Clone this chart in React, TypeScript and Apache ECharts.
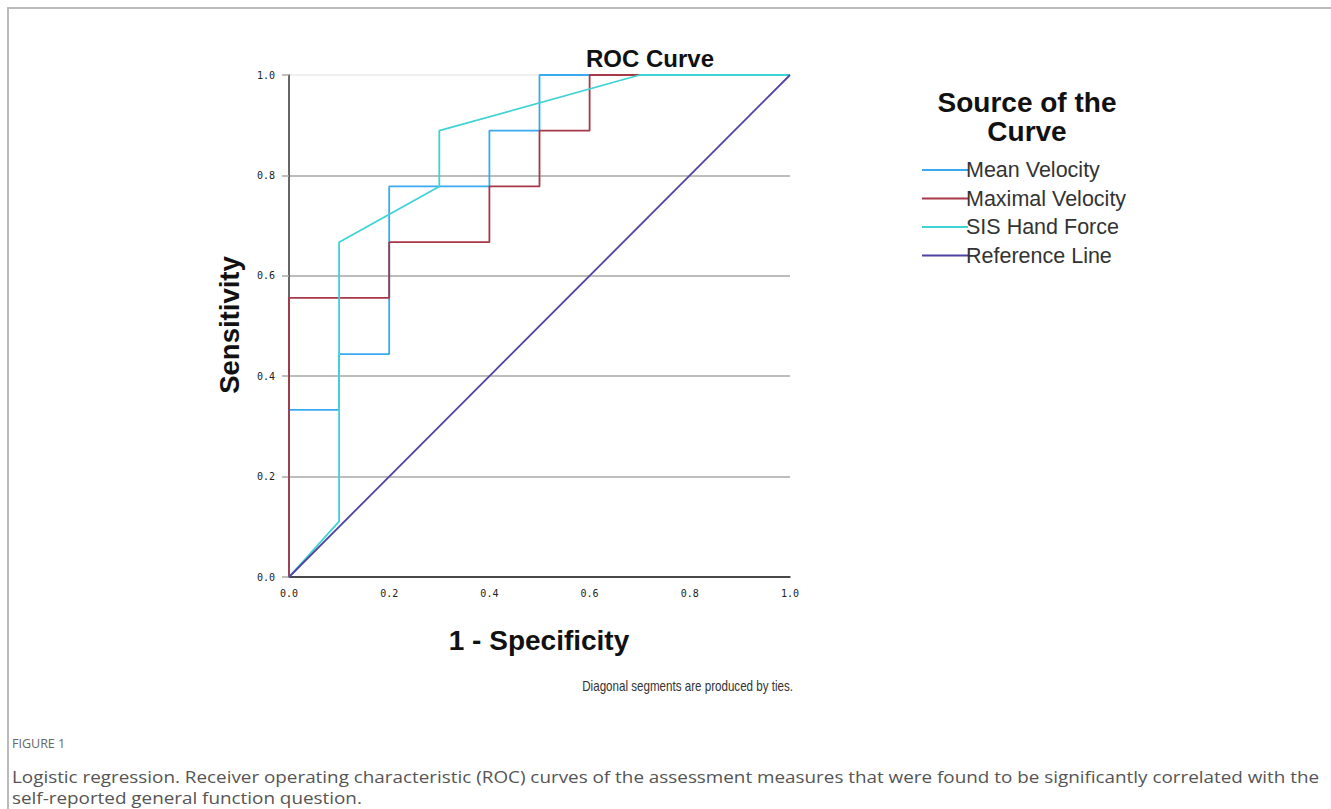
import React, { useEffect, useRef } from "react";
import * as echarts from "echarts";

const seriesNames = ["Mean Velocity", "Maximal Velocity", "SIS Hand Force", "Reference Line"];
const seriesColors = ["#3AAAF0", "#A63848", "#3ED3D6", "#4E43A0"];

const meanVelX = [0, 0, 0.1, 0.1, 0.2, 0.2, 0.4, 0.4, 0.5, 0.5, 1];
const meanVelY = [0, 0.333, 0.333, 0.444, 0.444, 0.778, 0.778, 0.889, 0.889, 1, 1];

const maxVelX = [0, 0, 0.2, 0.2, 0.4, 0.4, 0.5, 0.5, 0.6, 0.6, 1];
const maxVelY = [0, 0.556, 0.556, 0.667, 0.667, 0.778, 0.778, 0.889, 0.889, 1, 1];

const sisX = [0, 0.1, 0.1, 0.3, 0.3, 0.7, 1];
const sisY = [0, 0.111, 0.667, 0.778, 0.889, 1, 1];

const refX = [0, 1];
const refY = [0, 1];

const zip = (xs: number[], ys: number[]) => xs.map((x, i) => [x, ys[i]]);

export default function App() {
  const ref = useRef<HTMLDivElement>(null);
  useEffect(() => {
    if (!ref.current) return;
    const chart = echarts.init(ref.current, null, { renderer: "svg" });
    const allX = [meanVelX, maxVelX, sisX, refX];
    const allY = [meanVelY, maxVelY, sisY, refY];
    const tickFont = {
      fontFamily: "DejaVu Sans Mono",
      fontSize: 10,
      color: "#222",
    };
    chart.setOption({
      animation: false,
      backgroundColor: "#fff",
      grid: { left: 289, top: 75, width: 501, height: 502, containLabel: false },
      xAxis: {
        type: "value",
        min: 0,
        max: 1,
        interval: 0.2,
        axisLine: { show: true, lineStyle: { color: "#222", width: 1.5 } },
        axisTick: { show: false },
        splitLine: { show: false },
        axisLabel: { ...tickFont, margin: 11, formatter: (v: number) => v.toFixed(1) },
      },
      yAxis: {
        type: "value",
        min: 0,
        max: 1,
        interval: 0.2,
        axisLine: { show: true, lineStyle: { color: "#333", width: 1.5 } },
        axisTick: { show: true, length: 7, lineStyle: { color: "#aaa", width: 1.5 } },
        splitLine: {
          show: true,
          lineStyle: {
            color: ["#bdbdbd", "#bdbdbd", "#bdbdbd", "#bdbdbd", "#bdbdbd", "#f0f0f0"],
            width: 2,
          },
        },
        axisLabel: { ...tickFont, margin: 14, formatter: (v: number) => v.toFixed(1) },
      },
      legend: {
        orient: "vertical",
        left: 917,
        top: 154,
        itemWidth: 46,
        itemHeight: 2,
        itemGap: 6.5,
        icon: "rect",
        data: seriesNames,
        textStyle: {
          fontFamily: "Liberation Sans",
          fontSize: 21.5,
          lineHeight: 20,
          color: "#333",
          padding: [0, 0, 0, -7],
        },
      },
      series: seriesNames.map((name, i) => ({
        name,
        type: "line",
        data: zip(allX[i], allY[i]),
        showSymbol: false,
        symbol: "none",
        color: seriesColors[i],
        lineStyle: { color: seriesColors[i], width: 1.8 },
        z: 3 + i,
      })),
      graphic: [
        { type: "rect", shape: { x: 8, y: 8, width: 1340, height: 810 }, style: { fill: "none", stroke: "#bbbbbb", lineWidth: 2 }, silent: true },
        { type: "text", x: 650, y: 58, style: { text: "ROC Curve", font: "bold 24px 'Liberation Sans', Arial", fill: "#111", textAlign: "center", textVerticalAlign: "middle" } },
        { type: "text", x: 229, y: 325, rotation: Math.PI / 2, style: { text: "Sensitivity", font: "bold 27.5px 'Liberation Sans', Arial", fill: "#111", textAlign: "center", textVerticalAlign: "middle" } },
        { type: "text", x: 539, y: 640, style: { text: "1 - Specificity", font: "bold 28px 'Liberation Sans', Arial", fill: "#111", textAlign: "center", textVerticalAlign: "middle" } },
        { type: "text", x: 1027, y: 102, style: { text: "Source of the", font: "bold 28px 'Liberation Sans', Arial", fill: "#111", textAlign: "center", textVerticalAlign: "middle" } },
        { type: "text", x: 1027, y: 131, style: { text: "Curve", font: "bold 28px 'Liberation Sans', Arial", fill: "#111", textAlign: "center", textVerticalAlign: "middle" } },
        { type: "text", x: 793, y: 686, scaleX: 0.8, style: { text: "Diagonal segments are produced by ties.", font: "14.5px 'Liberation Sans', Arial", fill: "#333", textAlign: "right", textVerticalAlign: "middle" } },
        { type: "text", x: 12, y: 743, style: { text: "FIGURE 1", font: "12.5px 'Open Sans', 'Noto Sans'", fill: "#666", textAlign: "left", textVerticalAlign: "middle" } },
        { type: "text", x: 12, y: 776, scaleX: 1.11, style: { text: "Logistic regression. Receiver operating characteristic (ROC) curves of the assessment measures that were found to be significantly correlated with the", font: "17px 'Open Sans', 'Noto Sans'", fill: "#555", textAlign: "left", textVerticalAlign: "middle" } },
        { type: "text", x: 12, y: 797, scaleX: 1.11, style: { text: "self-reported general function question.", font: "17px 'Open Sans', 'Noto Sans'", fill: "#555", textAlign: "left", textVerticalAlign: "middle" } },
      ],
    });
    return () => chart.dispose();
  }, []);
  return (
    <div
      ref={ref}
      style={{ position: "absolute", left: 0, top: 0, width: 1331, height: 809 }}
    />
  );
}
